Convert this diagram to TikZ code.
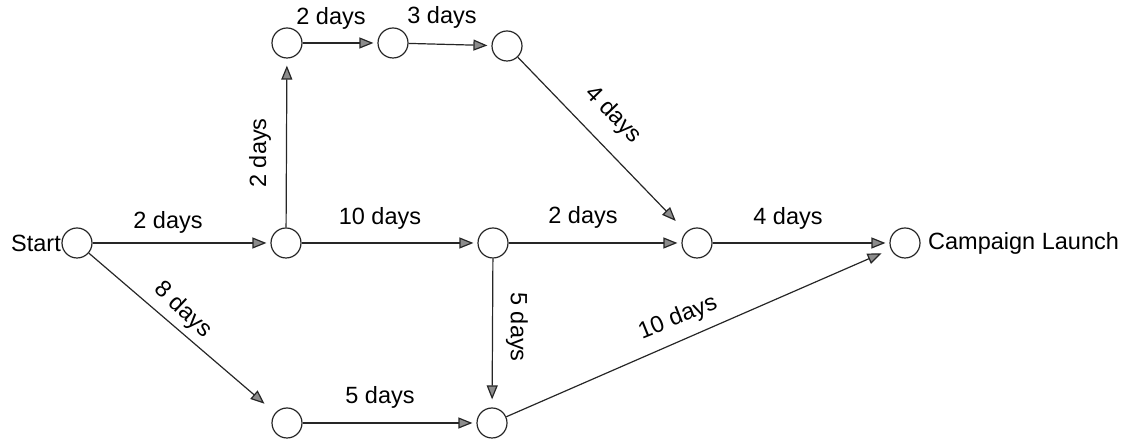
\documentclass[tikz,border=0pt]{standalone}
\usepackage{fontspec}
\setmainfont{Liberation Sans}
\usetikzlibrary{arrows.meta}
\begin{document}
\begin{tikzpicture}[x=1pt,y=1pt,
  evt/.style={circle,draw=black!85,line width=1.2pt,minimum size=30pt,inner sep=0pt},
  act/.style={draw=black!85,line width=1.2pt,
    -{Triangle[length=14pt,width=11pt,fill=black!45]},shorten >=4pt},
  lbl/.style={font=\fontsize{23.5}{28}\selectfont,inner sep=0pt}]
\useasboundingbox (0,0) rectangle (1136,441);
% events
\node[evt] (S) at (77,198) {};
\node[evt] (A) at (286,198) {};
\node[evt] (B) at (287,398) {};
\node[evt] (C) at (393,398) {};
\node[evt] (D) at (507,395) {};
\node[evt] (E) at (493,198) {};
\node[evt] (F) at (697,198) {};
\node[evt] (G) at (905,198) {};
\node[evt] (H) at (287,18) {};
\node[evt] (I) at (492,18) {};
% end labels
\node[lbl,anchor=east] (tS) at (61,198) {Start};
\node[lbl,anchor=west] (tG) at (928,198) {Campaign Launch};
% activities
\draw[act] (S) -- (A);
\draw[act] (A) -- (E);
\draw[act] (E) -- (F);
\draw[act] (F) -- (G);
\draw[act,shorten >=7pt] (A) -- (B);
\draw[act] (B) -- (C);
\draw[act] (C) -- (D);
\draw[act,shorten >=15pt] (D) -- (F);
\draw[act,shorten >=14pt] (S) -- (H);
\draw[act] (H) -- (I);
\draw[act,shorten >=8pt] (E) -- (I);
\draw[act,shorten >=10pt] (I) -- (G);
% durations
\node[lbl] (l1) at (168,219) {2 days};
\node[lbl] (l2) at (380,223) {10 days};
\node[lbl] (l3) at (583,224) {2 days};
\node[lbl] (l4) at (788,223) {4 days};
\node[lbl] (l5) at (331,423) {2 days};
\node[lbl] (l6) at (442,424) {3 days};
\node[lbl,rotate=90] (l7) at (260,288) {2 days};
\node[lbl,rotate=-43] (l8) at (183,131) {8 days};
\node[lbl,rotate=-90] (l9) at (517,114) {5 days};
\node[lbl,rotate=22] (l10) at (678,123) {10 days};
\node[lbl,rotate=-46] (l11) at (613,326) {4 days};
\node[lbl] (l12) at (380,44) {5 days};
\end{tikzpicture}
\end{document}
